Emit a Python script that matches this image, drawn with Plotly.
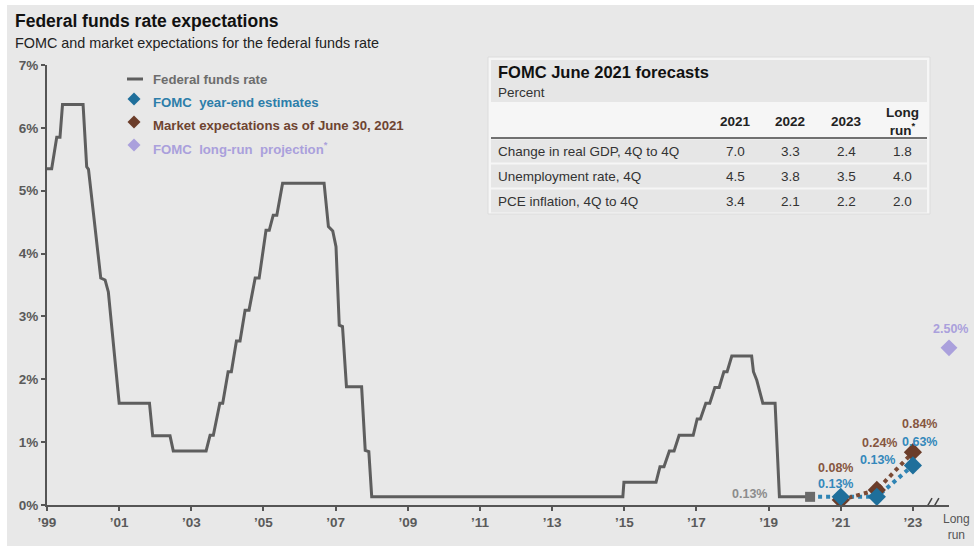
import plotly.graph_objects as go

# ---------------- data ----------------
fed_x = [1999.0, 1999.13, 1999.27, 1999.36, 1999.43, 2000.0, 2000.10, 2000.15, 2000.49, 2000.61,
         2000.70, 2001.0, 2001.84, 2001.93, 2002.41, 2002.50, 2003.41, 2003.52, 2003.61, 2003.79,
         2003.87, 2004.02, 2004.11, 2004.25, 2004.35, 2004.49, 2004.60, 2004.77, 2004.88, 2005.07,
         2005.16, 2005.27, 2005.37, 2005.53, 2006.68, 2006.80, 2006.92, 2007.01, 2007.10, 2007.19,
         2007.30, 2007.72, 2007.82, 2007.92, 2008.00, 2014.96, 2014.99, 2015.88, 2015.99, 2016.10,
         2016.25, 2016.38, 2016.52, 2016.91, 2017.02, 2017.11, 2017.26, 2017.37, 2017.51, 2017.63,
         2017.76, 2017.85, 2017.98, 2018.53, 2018.58, 2018.67, 2018.84, 2019.18, 2019.30, 2020.15]
fed_y = [5.35, 5.35, 5.85, 5.85, 6.37, 6.37, 5.38, 5.34, 3.61, 3.58,
         3.39, 1.62, 1.62, 1.10, 1.10, 0.86, 0.86, 1.11, 1.11, 1.62,
         1.62, 2.12, 2.12, 2.61, 2.61, 3.10, 3.10, 3.61, 3.61, 4.37,
         4.37, 4.61, 4.61, 5.12, 5.12, 4.43, 4.36, 4.11, 2.86, 2.84,
         1.88, 1.88, 0.87, 0.85, 0.13, 0.13, 0.36, 0.36, 0.61, 0.61,
         0.86, 0.86, 1.11, 1.11, 1.37, 1.37, 1.62, 1.62, 1.87, 1.87,
         2.12, 2.12, 2.37, 2.37, 2.12, 1.99, 1.62, 1.62, 0.13, 0.13]

proj_years = [2021, 2022, 2023]
fomc_est = [0.13, 0.13, 0.63]
market_exp = [0.08, 0.24, 0.84]
long_run_x = 2024
long_run_val = 2.50

x_tick_vals = list(range(1999, 2024, 2))
x_tick_text = ["’99", "’01", "’03", "’05", "’07", "’09", "’11", "’13", "’15", "’17", "’19", "’21", "’23"]
y_tick_vals = [0, 1, 2, 3, 4, 5, 6, 7]
y_tick_text = ["0%", "1%", "2%", "3%", "4%", "5%", "6%", "7%"]

table_cols = ["2021", "2022", "2023", "Long<br>run<sup>*</sup>"]
table_rows = ["Change in real GDP, 4Q to 4Q", "Unemployment rate, 4Q", "PCE inflation, 4Q to 4Q"]
table_vals = [[7.0, 3.3, 2.4, 1.8],
              [4.5, 3.8, 3.5, 4.0],
              [3.4, 2.1, 2.2, 2.0]]

legend_labels = ["Federal funds rate", "FOMC  year-end estimates",
                 "Market expectations as of June 30, 2021", "FOMC  long-run  projection<sup>*</sup>"]

# ---------------- layout helpers ----------------
W, H = 974, 546
L, R, T, B = 47, 25, 65, 41
PW, PH = W - L - R, H - T - B
FONT = "Liberation Sans, Arial, sans-serif"


def px(x):
    return (x - L) / PW


def py(y):
    return (H - B - y) / PH


GREY_LINE = "#5e5e5e"
BLUE = "#1f6f9b"
BLUE_TXT = "#3488bb"
BROWN = "#6b3d2a"
BROWN_TXT = "#86563f"
PURPLE = "#aaa0dc"
TICK_C = "#5a5a5a"

fig = go.Figure()

fig.add_trace(go.Scatter(x=fed_x, y=fed_y, mode="lines", name="Federal funds rate",
                         line=dict(color=GREY_LINE, width=3), hoverinfo="skip"))
fig.add_trace(go.Scatter(x=[fed_x[-1]] + proj_years, y=[fed_y[-1]] + fomc_est, mode="lines",
                         line=dict(color="#2f84b4", width=4, dash="dot"), hoverinfo="skip"))
fig.add_trace(go.Scatter(x=proj_years, y=market_exp, mode="lines",
                         line=dict(color="#7a4a35", width=4, dash="dot"), hoverinfo="skip"))
fig.add_trace(go.Scatter(x=[fed_x[-1]], y=[fed_y[-1]], mode="markers",
                         marker=dict(symbol="square", size=10, color="#6a6a6a"), hoverinfo="skip"))
fig.add_trace(go.Scatter(x=proj_years, y=market_exp, mode="markers", name="Market expectations",
                         marker=dict(symbol="diamond", size=14, color=BROWN), hoverinfo="skip"))
fig.add_trace(go.Scatter(x=proj_years, y=fomc_est, mode="markers", name="FOMC year-end estimates",
                         marker=dict(symbol="diamond", size=14, color=BLUE), hoverinfo="skip"))
fig.add_trace(go.Scatter(x=[long_run_x], y=[long_run_val], mode="markers", cliponaxis=False,
                         name="FOMC long-run projection",
                         marker=dict(symbol="diamond", size=13, color=PURPLE), hoverinfo="skip"))

shapes = []
annotations = []

# background
shapes.append(dict(type="rect", xref="paper", yref="paper", x0=px(7), x1=px(974), y0=py(546), y1=py(5),
                   fillcolor="#e8e8e8", line=dict(width=0), layer="below"))

# axis break marks
for xc in (2023.42, 2023.61):
    shapes.append(dict(type="line", xref="x", yref="y", x0=xc - 0.11, x1=xc + 0.11, y0=-0.11, y1=0.11,
                       line=dict(color="#444444", width=1.5)))

# ---------------- title ----------------
annotations.append(dict(xref="paper", yref="paper", x=px(13), y=py(21), xanchor="left", yanchor="middle",
                        text="<b>Federal funds rate expectations</b>", showarrow=False,
                        font=dict(family=FONT, size=17.5, color="#111111")))
annotations.append(dict(xref="paper", yref="paper", x=px(13), y=py(43), xanchor="left", yanchor="middle",
                        text="FOMC and market expectations for the federal funds rate", showarrow=False,
                        font=dict(family=FONT, size=14.4, color="#222222")))

# ---------------- legend (manual) ----------------
shapes.append(dict(type="line", xref="paper", yref="paper", x0=px(127), x1=px(143), y0=py(79), y1=py(79),
                   line=dict(color=GREY_LINE, width=3)))


def diamond(cx, cy, r, color):
    path = "M {a},{b} L {c},{d} L {a},{e} L {f},{d} Z".format(
        a=px(cx), b=py(cy - r), c=px(cx + r), d=py(cy), e=py(cy + r), f=px(cx - r))
    shapes.append(dict(type="path", xref="paper", yref="paper", path=path,
                       fillcolor=color, line=dict(width=0)))


leg = [("#6d6d6d", None, 79), ("#2d7eaa", BLUE, 102), ("#6e4431", BROWN, 125), ("#aaa0dc", PURPLE, 148)]
for txt, (col, mcol, yy) in zip(legend_labels, leg):
    if mcol:
        diamond(134, yy - 3, 6.5, mcol)
    annotations.append(dict(xref="paper", yref="paper", x=px(151), y=py(yy), xanchor="left", yanchor="middle",
                            text="<b>%s</b>" % txt, showarrow=False,
                            font=dict(family=FONT, size=13.2, color=col)))

# ---------------- table ----------------
shapes.append(dict(type="rect", xref="paper", yref="paper", x0=px(488), x1=px(930), y0=py(214), y1=py(57),
                   fillcolor="#f6f6f6", line=dict(color="#dcdcdc", width=1), layer="below"))
shapes.append(dict(type="rect", xref="paper", yref="paper", x0=px(491), x1=px(927), y0=py(102), y1=py(60),
                   fillcolor="#e6e6e6", line=dict(width=0), layer="below"))
shapes.append(dict(type="line", xref="paper", yref="paper", x0=px(491), x1=px(927), y0=py(138), y1=py(138),
                   line=dict(color="#444444", width=1.5)))
row_y = [151, 176, 201]
for ry in row_y:
    shapes.append(dict(type="rect", xref="paper", yref="paper", x0=px(491), x1=px(927),
                       y0=py(ry + 11.5), y1=py(ry - 11.5),
                       fillcolor="#e6e6e6", line=dict(width=0), layer="below"))
annotations.append(dict(xref="paper", yref="paper", x=px(496), y=py(72), xanchor="left", yanchor="middle",
                        text="<b>FOMC June 2021 forecasts</b>", showarrow=False,
                        font=dict(family=FONT, size=16.5, color="#111111")))
annotations.append(dict(xref="paper", yref="paper", x=px(496), y=py(92), xanchor="left", yanchor="middle",
                        text="Percent", showarrow=False, font=dict(family=FONT, size=13.5, color="#333333")))
col_x = [735, 790, 846, 902]
for cx, ct in zip(col_x, table_cols):
    annotations.append(dict(xref="paper", yref="paper", x=px(cx), y=py(122), xanchor="center",
                            yanchor="middle", text="<b>%s</b>" % ct, showarrow=False,
                            font=dict(family=FONT, size=13.5, color="#222222")))
for ry, rl, vals in zip(row_y, table_rows, table_vals):
    annotations.append(dict(xref="paper", yref="paper", x=px(496), y=py(ry), xanchor="left", yanchor="middle",
                            text=rl, showarrow=False, font=dict(family=FONT, size=13.5, color="#333333")))
    for cx, v in zip(col_x, vals):
        annotations.append(dict(xref="paper", yref="paper", x=px(cx), y=py(ry), xanchor="center",
                                yanchor="middle", text="%.1f" % v, showarrow=False,
                                font=dict(family=FONT, size=13.5, color="#333333")))

# ---------------- data labels ----------------
def lab(x, y, text, color, xs, ys):
    annotations.append(dict(xref="x", yref="y", x=x, y=y, text="<b>%s</b>" % text, showarrow=False,
                            xanchor="center", yanchor="middle", xshift=xs, yshift=ys,
                            font=dict(family=FONT, size=12.5, color=color)))


lab(fed_x[-2], fed_y[-2], "%.2f%%" % fed_y[-2], "#8c8c8c", -30, 3)
shifts_b = [(-5, 13), (1, 37), (7, 23)]
shifts_m = [(-5, 32), (3, 47), (7, 28)]
for yr, v, (xs, ys) in zip(proj_years, fomc_est, shifts_b):
    lab(yr, v, "%.2f%%" % v, BLUE_TXT, xs, ys)
for yr, v, (xs, ys) in zip(proj_years, market_exp, shifts_m):
    lab(yr, v, "%.2f%%" % v, BROWN_TXT, xs, ys)
lab(long_run_x, long_run_val, "%.2f%%" % long_run_val, PURPLE, 1, 19)

annotations.append(dict(xref="paper", yref="paper", x=px(957), y=py(527), xanchor="center", yanchor="middle",
                        text="Long<br>run", showarrow=False, font=dict(family=FONT, size=12, color="#555555")))

fig.update_layout(
    width=W, height=H, margin=dict(l=L, r=R, t=T, b=B, pad=0),
    paper_bgcolor="white", plot_bgcolor="rgba(0,0,0,0)",
    showlegend=False, shapes=shapes, annotations=annotations,
    xaxis=dict(range=[1999, 2024], tickmode="array", tickvals=x_tick_vals, ticktext=x_tick_text,
               ticks="outside", ticklen=4, tickwidth=1.5, tickcolor="#555555",
               showline=True, linecolor="#555555", linewidth=2, showgrid=False, zeroline=False,
               tickfont=dict(family=FONT, size=13.5, color=TICK_C, weight="bold"), fixedrange=True),
    yaxis=dict(range=[0, 7], tickmode="array", tickvals=y_tick_vals, ticktext=y_tick_text,
               ticks="outside", ticklen=4, tickwidth=1.5, tickcolor="#555555",
               showline=True, linecolor="#555555", linewidth=2, showgrid=False, zeroline=False,
               tickfont=dict(family=FONT, size=13.5, color=TICK_C, weight="bold"), fixedrange=True),
)

fig.write_html("out.html")
